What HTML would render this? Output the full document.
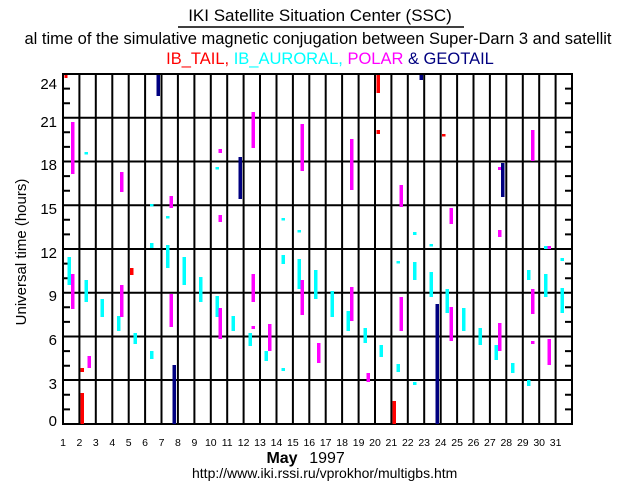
<!DOCTYPE html>
<html><head><meta charset="utf-8"><style>
html,body{margin:0;padding:0;background:#fff;}
svg{display:block;font-family:"Liberation Sans",sans-serif;}
</style></head><body>
<svg width="636" height="500" viewBox="0 0 636 500" xmlns="http://www.w3.org/2000/svg">
<rect width="636" height="500" fill="#fff"/>
<text x="320" y="21" font-size="17" text-anchor="middle">IKI Satellite Situation Center (SSC)</text>
<line x1="178" y1="27" x2="464" y2="27" stroke="#000" stroke-width="1.5"/>
<text x="318" y="44" font-size="16.5" text-anchor="middle">al time of the simulative magnetic conjugation between Super-Darn 3 and satellit</text>
<text x="330" y="64" font-size="16.5" text-anchor="middle"><tspan fill="#ff0000">IB_TAIL,</tspan> <tspan fill="#00ffff">IB_AURORAL,</tspan> <tspan fill="#ff00ff">POLAR</tspan> <tspan fill="#000080">&amp; GEOTAIL</tspan></text>

<g stroke="#000" stroke-width="2" fill="none">
<rect x="63" y="74" width="509" height="350"/>
<path d="M79.4 74V424M95.8 74V424M112.3 74V424M128.7 74V424M145.1 74V424M161.5 74V424M177.9 74V424M194.4 74V424M210.8 74V424M227.2 74V424M243.6 74V424M260 74V424M276.5 74V424M292.9 74V424M309.3 74V424M325.7 74V424M342.1 74V424M358.6 74V424M375 74V424M391.4 74V424M407.8 74V424M424.2 74V424M440.7 74V424M457.1 74V424M473.5 74V424M489.9 74V424M506.3 74V424M522.8 74V424M539.2 74V424M555.6 74V424"/>
<path d="M63 380H572M63 336.5H572M63 292.7H572M63 249H572M63 205.2H572M63 161.5H572M63 117.7H572"/>
<path d="M63 409.4H70M63 394.8H70M63 365.7H70M63 351.1H70M63 321.9H70M63 307.3H70M63 278.2H70M63 263.6H70M63 234.4H70M63 219.8H70M63 190.7H70M63 176.1H70M63 146.9H70M63 132.3H70M63 103.2H70M63 88.6H70
M565 409.4H572M565 394.8H572M565 365.7H572M565 351.1H572M565 321.9H572M565 307.3H572M565 278.2H572M565 263.6H572M565 234.4H572M565 219.8H572M565 190.7H572M565 176.1H572M565 146.9H572M565 132.3H572M565 103.2H572M565 88.6H572"/>
</g>

<g font-size="15" text-anchor="end">
<text x="57" y="89">24</text><text x="57" y="127">21</text><text x="57" y="170">18</text><text x="57" y="214">15</text><text x="57" y="258">12</text><text x="57" y="301">9</text><text x="57" y="345">6</text><text x="57" y="389">3</text><text x="57" y="426">0</text>
</g>
<text transform="translate(26,252) rotate(-90)" font-size="15" text-anchor="middle">Universal time (hours)</text>

<g font-size="10.5" text-anchor="middle">
<text x="63" y="446">1</text><text x="79.4" y="446">2</text><text x="95.8" y="446">3</text><text x="112.3" y="446">4</text><text x="128.7" y="446">5</text><text x="145.1" y="446">6</text><text x="161.5" y="446">7</text><text x="177.9" y="446">8</text><text x="194.4" y="446">9</text><text x="210.8" y="446">10</text><text x="227.2" y="446">11</text><text x="243.6" y="446">12</text><text x="260" y="446">13</text><text x="276.5" y="446">14</text><text x="292.9" y="446">15</text><text x="309.3" y="446">16</text><text x="325.7" y="446">17</text><text x="342.1" y="446">18</text><text x="358.6" y="446">19</text><text x="375" y="446">20</text><text x="391.4" y="446">21</text><text x="407.8" y="446">22</text><text x="424.2" y="446">23</text><text x="440.7" y="446">24</text><text x="457.1" y="446">25</text><text x="473.5" y="446">26</text><text x="489.9" y="446">27</text><text x="506.3" y="446">28</text><text x="522.8" y="446">29</text><text x="539.2" y="446">30</text><text x="555.6" y="446">31</text>
</g>
<text x="282" y="463" font-size="16" font-weight="bold" text-anchor="middle">May</text>
<text x="327" y="463" font-size="16" text-anchor="middle">1997</text>
<text x="192" y="478" font-size="14">http://www.iki.rssi.ru/vprokhor/multigbs.htm</text>

<g fill="#ff0000">
<rect x="64.5" y="75" width="3" height="3"/>
<rect x="80.5" y="393" width="3.5" height="31"/>
<rect x="80.5" y="368" width="3.5" height="4"/>
<rect x="130" y="268" width="3.5" height="7"/>
<rect x="376.5" y="75" width="3.5" height="18"/>
<rect x="376.5" y="130" width="3.5" height="4"/>
<rect x="392.5" y="401" width="3.5" height="23"/>
<rect x="442" y="134" width="3.5" height="2.5"/>
</g>
<g fill="#00ffff">
<rect x="67.5" y="257" width="3.5" height="28"/>
<rect x="84.5" y="152" width="3.5" height="2.5"/>
<rect x="84.5" y="280" width="3.5" height="22"/>
<rect x="100.5" y="299" width="3.5" height="18"/>
<rect x="117" y="316" width="3.5" height="15"/>
<rect x="133.5" y="333" width="3.5" height="11"/>
<rect x="150" y="204" width="3.5" height="2.5"/>
<rect x="150" y="243" width="3.5" height="5"/>
<rect x="150" y="351" width="3.5" height="8"/>
<rect x="166" y="216" width="3.5" height="2.5"/>
<rect x="166" y="245" width="3.5" height="23"/>
<rect x="182.5" y="257" width="3.5" height="28"/>
<rect x="199" y="277" width="3.5" height="25"/>
<rect x="215.5" y="167" width="3.5" height="2.5"/>
<rect x="215.5" y="296" width="3.5" height="21"/>
<rect x="231.5" y="316" width="3.5" height="15"/>
<rect x="248.5" y="333" width="3.5" height="13"/>
<rect x="264.5" y="351" width="3.5" height="10"/>
<rect x="281.5" y="218" width="3.5" height="2.5"/>
<rect x="281.5" y="255" width="3.5" height="9"/>
<rect x="281.5" y="368" width="3.5" height="3"/>
<rect x="297.5" y="230" width="3.5" height="2.5"/>
<rect x="297.5" y="259" width="3.5" height="30"/>
<rect x="314" y="270" width="3.5" height="29"/>
<rect x="330.5" y="291" width="3.5" height="26"/>
<rect x="346.5" y="311" width="3.5" height="20"/>
<rect x="363.5" y="328" width="3.5" height="15"/>
<rect x="379.5" y="345" width="3.5" height="12"/>
<rect x="396.5" y="261" width="3.5" height="2.5"/>
<rect x="396.5" y="364" width="3.5" height="8"/>
<rect x="413" y="232" width="3.5" height="3"/>
<rect x="413" y="262" width="3.5" height="18"/>
<rect x="413" y="382" width="3.5" height="3"/>
<rect x="429.5" y="244" width="3.5" height="2.5"/>
<rect x="429.5" y="272" width="3.5" height="25"/>
<rect x="445.5" y="289" width="3.5" height="24"/>
<rect x="462" y="308" width="3.5" height="23"/>
<rect x="478.5" y="328" width="3.5" height="17"/>
<rect x="494.5" y="345" width="3.5" height="15"/>
<rect x="511" y="363" width="3.5" height="10"/>
<rect x="527" y="270" width="3.5" height="10"/>
<rect x="527" y="380" width="3.5" height="6"/>
<rect x="544" y="246" width="3.5" height="3"/>
<rect x="544" y="274" width="3.5" height="23"/>
<rect x="560.5" y="258" width="3.5" height="3"/>
<rect x="560.5" y="288" width="3.5" height="25"/>
</g>
<g fill="#ff00ff">
<rect x="71" y="122" width="3.5" height="52"/>
<rect x="71" y="274" width="3.5" height="35"/>
<rect x="87.5" y="356" width="3.5" height="12"/>
<rect x="120" y="172" width="3.5" height="20"/>
<rect x="120" y="285" width="3.5" height="32"/>
<rect x="169.5" y="196" width="3.5" height="12"/>
<rect x="169.5" y="294" width="3.5" height="33"/>
<rect x="218.5" y="149" width="3.5" height="4"/>
<rect x="218.5" y="215" width="3.5" height="7"/>
<rect x="218.5" y="308" width="3.5" height="31"/>
<rect x="251.5" y="112" width="3.5" height="36"/>
<rect x="251.5" y="274" width="3.5" height="28"/>
<rect x="251.5" y="326" width="3.5" height="3"/>
<rect x="268" y="324" width="3.5" height="27"/>
<rect x="300.5" y="124" width="3.5" height="47"/>
<rect x="300.5" y="280" width="3.5" height="35"/>
<rect x="317" y="343" width="3.5" height="20"/>
<rect x="350" y="139" width="3.5" height="51"/>
<rect x="350" y="287" width="3.5" height="34"/>
<rect x="366.5" y="373" width="3.5" height="9"/>
<rect x="399.5" y="185" width="3.5" height="22"/>
<rect x="399.5" y="297" width="3.5" height="34"/>
<rect x="449.5" y="208" width="3.5" height="16"/>
<rect x="449.5" y="307" width="3.5" height="34"/>
<rect x="498" y="167" width="3.5" height="3"/>
<rect x="498" y="230" width="3.5" height="7"/>
<rect x="498" y="323" width="3.5" height="28"/>
<rect x="531" y="130" width="3.5" height="31"/>
<rect x="531" y="289" width="3.5" height="25"/>
<rect x="531" y="341" width="3.5" height="3"/>
<rect x="547.5" y="246" width="3.5" height="3"/>
<rect x="547.5" y="339" width="3.5" height="26"/>
</g>
<g fill="#000080">
<rect x="156.5" y="75" width="3.5" height="21"/>
<rect x="172.5" y="365" width="3.5" height="59"/>
<rect x="238.5" y="157" width="3.5" height="42"/>
<rect x="419.5" y="75" width="3.5" height="5"/>
<rect x="435.5" y="304" width="3.5" height="120"/>
<rect x="501" y="163" width="3.5" height="34"/>
</g>
</svg>
</body></html>
